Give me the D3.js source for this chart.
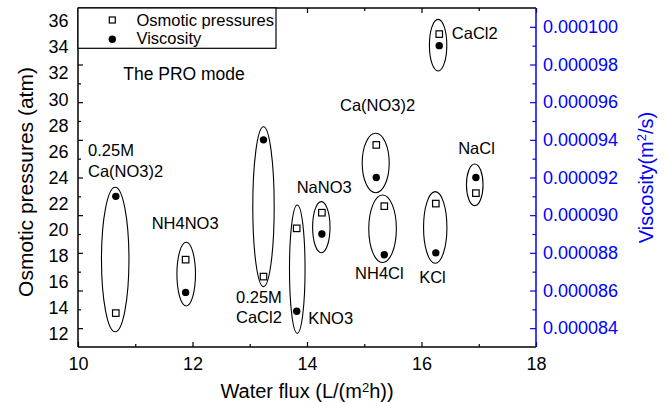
<!DOCTYPE html>
<html>
<head>
<meta charset="utf-8">
<script src="https://cdn.jsdelivr.net/npm/d3@7"></script>
<style>
  html, body { margin: 0; padding: 0; background: #fff; }
  svg { display: block; font-family: "Liberation Sans", Arial, Helvetica, sans-serif; }
</style>
</head>
<body>
<svg id="chart" width="665" height="403"></svg>
<script>
// ---------- data ----------
const categories = ["0.25M Ca(NO3)2", "NH4NO3", "0.25M CaCl2", "KNO3", "NaNO3", "Ca(NO3)2", "NH4Cl", "KCl", "NaCl", "CaCl2"];
const waterFlux = [10.66, 11.88, 13.24, 13.82, 14.26, 15.21, 15.35, 16.25, 16.95, 16.31];
const osmoticPressure = [13.6, 17.7, 16.4, 20.1, 21.3, 26.5, 21.8, 22.0, 22.8, 35.0];
const viscosity = [0.0000910, 0.0000859, 0.0000940, 0.0000849, 0.0000890, 0.0000920, 0.0000879, 0.0000880, 0.0000920, 0.0000990];

// grouping ellipses (data units: flux / pressure)
const ellipseCx = [10.65, 11.89, 13.24, 13.83, 14.25, 15.20, 15.32, 16.24, 16.93, 16.29];
const ellipseCy = [17.71, 16.59, 21.76, 16.97, 20.19, 25.11, 20.07, 20.17, 23.44, 34.15];
const ellipseRx = [0.240, 0.162, 0.187, 0.136, 0.152, 0.236, 0.241, 0.204, 0.145, 0.152];
const ellipseRy = [5.54, 2.44, 6.13, 4.92, 1.96, 2.28, 2.59, 2.75, 1.60, 1.98];

// text annotations (data units: flux / pressure of the text's left, middle)
const labelTexts = ["0.25M", "Ca(NO3)2", "NH4NO3", "0.25M", "CaCl2", "KNO3", "NaNO3", "Ca(NO3)2", "CaCl2", "NaCl", "NH4Cl", "KCl", "The PRO mode"];
const labelFlux  = [10.175, 10.175, 11.287, 12.76, 12.76, 14.02, 13.82, 14.576, 16.53, 16.64, 14.84, 15.96, 10.79];
const labelPress = [26.07, 24.52, 20.49, 14.86, 13.33, 13.2, 23.27, 29.56, 35.06, 26.24, 16.65, 16.35, 31.99];

const xTicksMajor = [10, 12, 14, 16, 18];
const xTicksMinor = [11, 13, 15, 17];
const pressureTicks = [12, 14, 16, 18, 20, 22, 24, 26, 28, 30, 32, 34, 36];
const viscTicksMajor = [0.000084, 0.000086, 0.000088, 0.000090, 0.000092, 0.000094, 0.000096, 0.000098, 0.000100];
const viscTicksMinor = [0.000085, 0.000087, 0.000089, 0.000091, 0.000093, 0.000095, 0.000097, 0.000099];

// ---------- layout ----------
const svg = d3.select("#chart");
const L = 78, R = 536, T = 8, B = 347;
const BLUE = "#0000ff";

const x = d3.scaleLinear().domain([10, 18]).range([L, R]);
const yP = d3.scaleLinear().domain([11, 37]).range([B, T]);
const yV = d3.scaleLinear().domain([0.000083, 0.000101]).range([B, T]);

function clean(g) { g.select(".domain").remove(); }

// bottom axis: inward ticks
const gx = svg.append("g").attr("transform", `translate(0,${B})`);
gx.call(d3.axisBottom(x).tickValues(xTicksMajor).tickFormat(d3.format("d")).tickSizeInner(-5).tickSizeOuter(0).tickPadding(10.5))
  .call(clean);
gx.selectAll("text").attr("y", 10.5).attr("font-size", 18).attr("font-family", "Liberation Sans, Arial, sans-serif").attr("fill", "#000");
gx.selectAll("line").attr("stroke", "#000").attr("stroke-width", 1.2);
svg.append("g").attr("transform", `translate(0,${B})`)
  .call(d3.axisBottom(x).tickValues(xTicksMinor).tickFormat("").tickSizeInner(-3).tickSizeOuter(0))
  .call(clean).selectAll("line").attr("stroke", "#000").attr("stroke-width", 1.2);

// top axis mirror ticks
svg.append("g").attr("transform", `translate(0,${T})`)
  .call(d3.axisTop(x).tickValues(xTicksMajor).tickFormat("").tickSizeInner(-5).tickSizeOuter(0))
  .call(clean).selectAll("line").attr("stroke", "#000").attr("stroke-width", 1.2);
svg.append("g").attr("transform", `translate(0,${T})`)
  .call(d3.axisTop(x).tickValues(xTicksMinor).tickFormat("").tickSizeInner(-3).tickSizeOuter(0))
  .call(clean).selectAll("line").attr("stroke", "#000").attr("stroke-width", 1.2);

// left axis labels (pressure), no ticks
const gyl = svg.append("g").attr("transform", `translate(${L},0)`);
gyl.call(d3.axisLeft(yP).tickValues(pressureTicks).tickFormat(d3.format("d")).tickSize(0).tickPadding(9.5)).call(clean);
gyl.selectAll("text").attr("font-size", 18).attr("font-family", "Liberation Sans, Arial, sans-serif").attr("fill", "#000");
gyl.selectAll("line").remove();

// left axis mirror ticks (of the viscosity scale)
svg.append("g").attr("transform", `translate(${L},0)`)
  .call(d3.axisLeft(yV).tickValues(viscTicksMajor).tickFormat("").tickSizeInner(-5).tickSizeOuter(0))
  .call(clean).selectAll("line").attr("stroke", "#000").attr("stroke-width", 1.2);
svg.append("g").attr("transform", `translate(${L},0)`)
  .call(d3.axisLeft(yV).tickValues(viscTicksMinor).tickFormat("").tickSizeInner(-3).tickSizeOuter(0))
  .call(clean).selectAll("line").attr("stroke", "#000").attr("stroke-width", 1.2);

// right axis (viscosity), blue, inward ticks
const gyr = svg.append("g").attr("transform", `translate(${R},0)`);
gyr.call(d3.axisRight(yV).tickValues(viscTicksMajor).tickFormat(d3.format(".6f")).tickSizeInner(-6).tickSizeOuter(0).tickPadding(7))
  .call(clean);
gyr.selectAll("text").attr("font-size", 18).attr("font-family", "Liberation Sans, Arial, sans-serif").attr("fill", BLUE);
gyr.selectAll("line").attr("stroke", BLUE).attr("stroke-width", 1.2);
svg.append("g").attr("transform", `translate(${R},0)`)
  .call(d3.axisRight(yV).tickValues(viscTicksMinor).tickFormat("").tickSizeInner(-3.5).tickSizeOuter(0))
  .call(clean).selectAll("line").attr("stroke", BLUE).attr("stroke-width", 1.2);

// frame
svg.append("line").attr("x1", L).attr("x2", R).attr("y1", B).attr("y2", B).attr("stroke", "#000").attr("stroke-width", 1.5);
svg.append("line").attr("x1", L).attr("x2", R).attr("y1", T).attr("y2", T).attr("stroke", "#000").attr("stroke-width", 1.3);
svg.append("line").attr("x1", L).attr("x2", L).attr("y1", T).attr("y2", B).attr("stroke", "#000").attr("stroke-width", 1.5);
svg.append("line").attr("x1", R).attr("x2", R).attr("y1", T).attr("y2", B).attr("stroke", BLUE).attr("stroke-width", 1.5);

// axis titles
const xt = svg.append("text").attr("x", (L + R) / 2).attr("y", 398).attr("text-anchor", "middle")
  .attr("font-size", 20).attr("fill", "#000");
xt.append("tspan").text("Water flux (L/(m");
xt.append("tspan").attr("font-size", 13).attr("dy", -6).text("2");
xt.append("tspan").attr("dy", 6).text("h))");

svg.append("text").attr("transform", `translate(33,182) rotate(-90)`).attr("text-anchor", "middle")
  .attr("font-size", 21).attr("fill", "#000").text("Osmotic pressures (atm)");

const yt = svg.append("text").attr("transform", `translate(653,${(T + B) / 2}) rotate(-90)`).attr("text-anchor", "middle")
  .attr("font-size", 20).attr("fill", BLUE);
yt.append("tspan").text("Viscosity(m");
yt.append("tspan").attr("font-size", 13).attr("dy", -7).text("2");
yt.append("tspan").attr("dy", 7).text("/s)");

// ellipses
svg.append("g").selectAll("ellipse").data(categories).join("ellipse")
  .attr("cx", (d, i) => x(ellipseCx[i]))
  .attr("cy", (d, i) => yP(ellipseCy[i]))
  .attr("rx", (d, i) => x(ellipseCx[i] + ellipseRx[i]) - x(ellipseCx[i]))
  .attr("ry", (d, i) => yP(ellipseCy[i] - ellipseRy[i]) - yP(ellipseCy[i]))
  .attr("fill", "none").attr("stroke", "#000").attr("stroke-width", 1.1);

// osmotic pressure: open squares
const S = 6.5;
svg.append("g").selectAll("rect").data(categories).join("rect")
  .attr("x", (d, i) => x(waterFlux[i]) - S / 2)
  .attr("y", (d, i) => yP(osmoticPressure[i]) - S / 2)
  .attr("width", S).attr("height", S)
  .attr("fill", "#fff").attr("stroke", "#000").attr("stroke-width", 1.2);

// viscosity: filled circles
svg.append("g").selectAll("circle").data(categories).join("circle")
  .attr("cx", (d, i) => x(waterFlux[i]))
  .attr("cy", (d, i) => yV(viscosity[i]))
  .attr("r", 3.7).attr("fill", "#000");

// annotations
svg.append("g").selectAll("text").data(labelTexts).join("text")
  .attr("x", (d, i) => x(labelFlux[i]))
  .attr("y", (d, i) => yP(labelPress[i]))
  .attr("dy", "0.36em")
  .attr("font-size", (d, i) => i === labelTexts.length - 1 ? 17.5 : 16.5)
  .attr("fill", "#000")
  .text(d => d);

// legend
const lg = svg.append("g");
lg.append("rect").attr("x", L).attr("y", T).attr("width", 276 - L).attr("height", 48.3 - T)
  .attr("fill", "#fff").attr("stroke", "#000").attr("stroke-width", 1.2);
lg.append("rect").attr("x", 112.3 - 3).attr("y", 20 - 3).attr("width", 6).attr("height", 6)
  .attr("fill", "#fff").attr("stroke", "#000").attr("stroke-width", 1.2);
lg.append("circle").attr("cx", 112.3).attr("cy", 39.3).attr("r", 3.7).attr("fill", "#000");
lg.append("text").attr("x", 136.5).attr("y", 20).attr("dy", "0.36em").attr("font-size", 16.5).text("Osmotic pressures");
lg.append("text").attr("x", 136.5).attr("y", 38.5).attr("dy", "0.36em").attr("font-size", 16.5).text("Viscosity");
</script>
</body>
</html>
